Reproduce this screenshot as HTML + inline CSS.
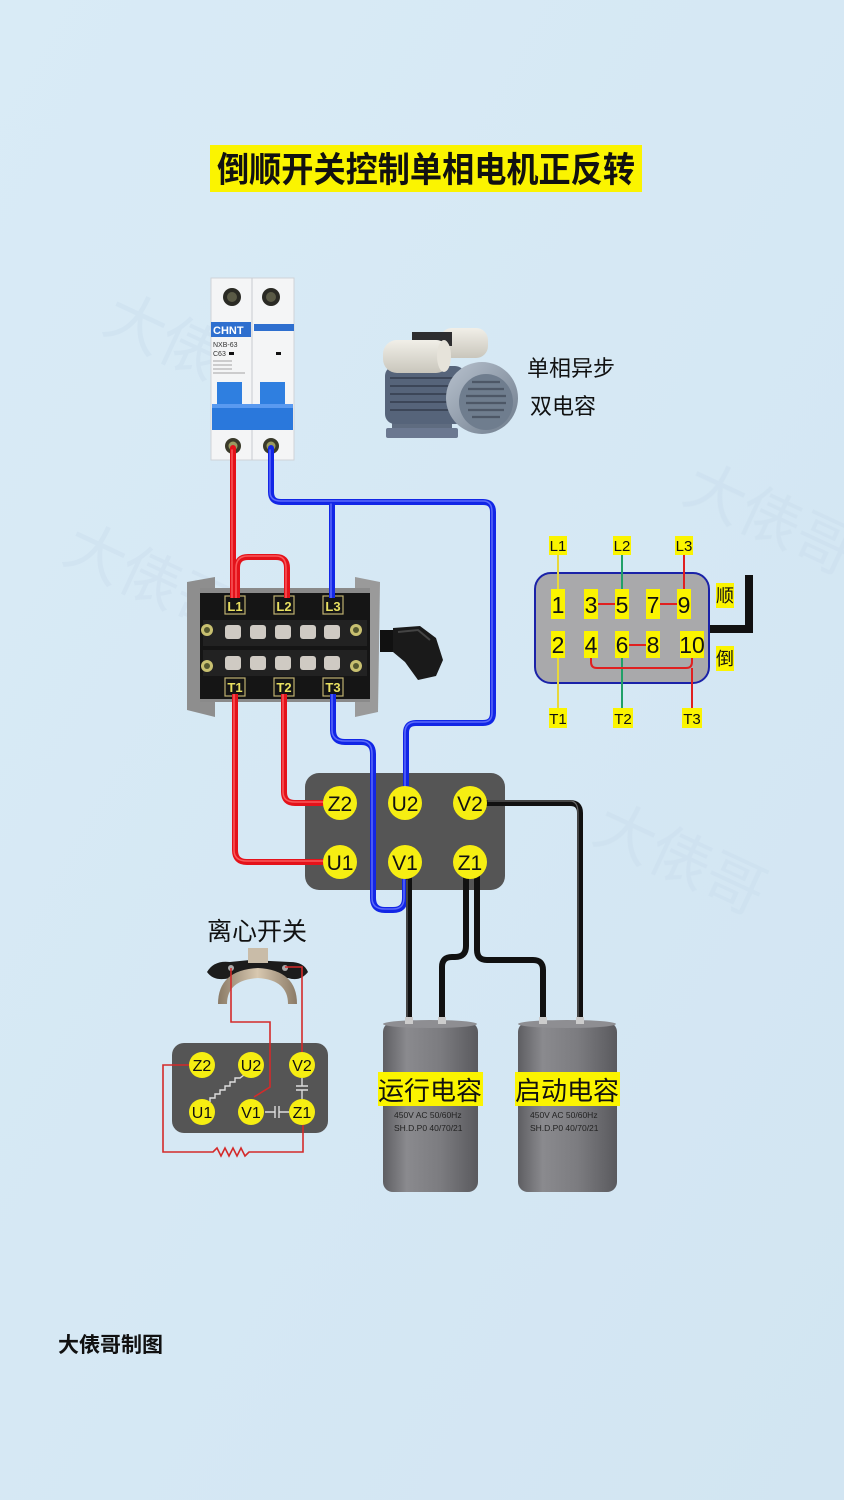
<!DOCTYPE html>
<html><head><meta charset="utf-8"><style>
html,body{margin:0;padding:0;background:#d6e8f4;}
svg{display:block;}
.cjk{font-family:"Liberation Sans","Noto Sans CJK SC",sans-serif;}
.lat{font-family:"Liberation Sans",sans-serif;}
</style></head><body>
<svg width="844" height="1500" viewBox="0 0 844 1500" xmlns="http://www.w3.org/2000/svg">
<defs>
<linearGradient id="bg" x1="0" y1="0" x2="1" y2="1">
<stop offset="0" stop-color="#d9ebf6"/><stop offset="1" stop-color="#d2e5f2"/>
</linearGradient>
<linearGradient id="cap" x1="0" y1="0" x2="1" y2="0">
<stop offset="0" stop-color="#5e5e62"/><stop offset="0.25" stop-color="#8a8a8e"/><stop offset="0.6" stop-color="#7c7c80"/><stop offset="1" stop-color="#5a5a5e"/>
</linearGradient>
<linearGradient id="fan" x1="0" y1="0" x2="1" y2="1">
<stop offset="0" stop-color="#b8c2ce"/><stop offset="1" stop-color="#6f7c8c"/>
</linearGradient>
<linearGradient id="cream" x1="0" y1="0" x2="0" y2="1">
<stop offset="0" stop-color="#f1efe8"/><stop offset="1" stop-color="#c9c6bc"/>
</linearGradient>
<linearGradient id="gold" x1="0" y1="0" x2="1" y2="0">
<stop offset="0" stop-color="#8a7a66"/><stop offset="0.5" stop-color="#d8c8b0"/><stop offset="1" stop-color="#8a7a66"/>
</linearGradient>
</defs>
<rect width="844" height="1500" fill="url(#bg)"/>

<!-- faint watermarks -->
<g class="cjk" fill="#c6dbea" font-size="60" opacity="0.35">
<text x="100" y="330" transform="rotate(25 100 330)">大俵哥</text>
<text x="60" y="560" transform="rotate(25 60 560)">大俵哥</text>
<text x="590" y="840" transform="rotate(25 590 840)">大俵哥</text>
<text x="680" y="500" transform="rotate(25 680 500)">大俵哥</text>
</g>

<!-- Title -->
<rect x="210" y="145" width="432" height="47" fill="#fbf400"/>
<text x="426" y="182" class="cjk" font-size="35" font-weight="bold" text-anchor="middle" fill="#111" textLength="418" lengthAdjust="spacingAndGlyphs">倒顺开关控制单相电机正反转</text>

<!-- Breaker -->
<g>
<rect x="211" y="278" width="83" height="182" fill="#f4f5f6" stroke="#cfd3d8"/>
<line x1="252" y1="278" x2="252" y2="460" stroke="#c8ccd0"/>
<circle cx="232" cy="297" r="9" fill="#2a2a24"/><circle cx="232" cy="297" r="5" fill="#5a5a46"/>
<circle cx="271" cy="297" r="9" fill="#2a2a24"/><circle cx="271" cy="297" r="5" fill="#5a5a46"/>
<rect x="211" y="322" width="40" height="15" fill="#2e6fcf"/>
<rect x="254" y="324" width="40" height="7" fill="#2e6fcf"/>
<text x="213" y="334" class="lat" font-size="11" font-weight="bold" fill="#fff">CHNT</text>
<text x="213" y="347" class="lat" font-size="7" fill="#333">NXB-63</text>
<text x="213" y="356" class="lat" font-size="7" fill="#333">C63</text>
<rect x="229" y="352" width="5" height="3" fill="#111"/>
<rect x="276" y="352" width="5" height="3" fill="#111"/>
<g stroke="#888" stroke-width="0.8"><line x1="213" y1="361" x2="232" y2="361"/><line x1="213" y1="365" x2="232" y2="365"/><line x1="213" y1="369" x2="232" y2="369"/><line x1="213" y1="373" x2="245" y2="373"/></g>
<rect x="217" y="382" width="25" height="26" fill="#2f7fe0"/>
<rect x="260" y="382" width="25" height="26" fill="#2f7fe0"/>
<rect x="212" y="406" width="81" height="24" fill="#2a78dc"/>
<rect x="212" y="404" width="81" height="4" fill="#5a9af0"/>
<circle cx="233" cy="446" r="8" fill="#3a3a2a"/><circle cx="233" cy="446" r="4.5" fill="#9a9a60"/>
<circle cx="271" cy="446" r="8" fill="#3a3a2a"/><circle cx="271" cy="446" r="4.5" fill="#9a9a60"/>
</g>

<!-- Motor picture -->
<g>
<rect x="392" y="415" width="60" height="22" fill="#5f6c80"/>
<rect x="386" y="428" width="72" height="10" rx="2" fill="#6b7890"/>
<rect x="385" y="366" width="80" height="58" rx="10" fill="#56647a"/>
<g stroke="#3c4658" stroke-width="2"><line x1="390" y1="378" x2="460" y2="378"/><line x1="390" y1="386" x2="460" y2="386"/><line x1="390" y1="394" x2="460" y2="394"/><line x1="390" y1="402" x2="460" y2="402"/><line x1="390" y1="410" x2="460" y2="410"/></g>
<rect x="440" y="328" width="48" height="30" rx="12" fill="url(#cream)"/>
<rect x="412" y="332" width="40" height="14" fill="#2e2e30"/>
<rect x="383" y="340" width="67" height="33" rx="14" fill="url(#cream)"/>
<ellipse cx="444" cy="356" rx="7" ry="16" fill="#e6e3da"/>
<ellipse cx="482" cy="398" rx="36" ry="36" fill="url(#fan)"/>
<ellipse cx="486" cy="402" rx="27" ry="28" fill="#6f7d8e"/>
<g stroke="#4d5766" stroke-width="2.2"><line x1="472" y1="382" x2="500" y2="382"/><line x1="468" y1="389" x2="504" y2="389"/><line x1="466" y1="396" x2="506" y2="396"/><line x1="466" y1="403" x2="506" y2="403"/><line x1="468" y1="410" x2="504" y2="410"/><line x1="472" y1="417" x2="500" y2="417"/></g>
</g>
<text x="527" y="376" class="cjk" font-size="22" fill="#111">单相异步</text>
<text x="530" y="414" class="cjk" font-size="22" fill="#111">双电容</text>

<!-- Switch housing -->
<g>
<polygon points="187,582 215,577 215,717 187,710" fill="#8e8e8e"/>
<polygon points="355,577 380,582 378,712 355,717" fill="#9a9a9a"/>
<rect x="200" y="588" width="170" height="114" fill="#8a8a8a"/>
<rect x="200" y="593" width="170" height="106" fill="#151515"/>
<rect x="203" y="620" width="164" height="26" fill="#222"/>
<rect x="203" y="650" width="164" height="26" fill="#222"/>
<g fill="#cfcac3">
<rect x="225" y="625" width="16" height="14" rx="3"/><rect x="250" y="625" width="16" height="14" rx="3"/><rect x="275" y="625" width="16" height="14" rx="3"/><rect x="300" y="625" width="16" height="14" rx="3"/><rect x="324" y="625" width="16" height="14" rx="3"/>
<rect x="225" y="656" width="16" height="14" rx="3"/><rect x="250" y="656" width="16" height="14" rx="3"/><rect x="275" y="656" width="16" height="14" rx="3"/><rect x="300" y="656" width="16" height="14" rx="3"/><rect x="324" y="656" width="16" height="14" rx="3"/>
</g>
<g fill="#c8c070"><circle cx="207" cy="630" r="6"/><circle cx="207" cy="666" r="6"/><circle cx="356" cy="630" r="6"/><circle cx="356" cy="666" r="6"/></g>
<g fill="#555830"><circle cx="207" cy="630" r="3"/><circle cx="207" cy="666" r="3"/><circle cx="356" cy="630" r="3"/><circle cx="356" cy="666" r="3"/></g>
<g fill="none" stroke="#bfb070" stroke-width="1.2">
<rect x="225" y="596" width="20" height="18"/><rect x="274" y="596" width="20" height="18"/><rect x="323" y="596" width="20" height="18"/>
<rect x="225" y="678" width="20" height="18"/><rect x="274" y="678" width="20" height="18"/><rect x="323" y="678" width="20" height="18"/>
</g>
<!-- handle -->
<rect x="380" y="630" width="14" height="22" fill="#111"/>
<path d="M393,628 L420,626 L436,638 L443,660 L436,676 L418,680 L405,662 L393,652 Z" fill="#1a1a1a"/>
<path d="M398,632 L418,630 L430,640" stroke="#444" stroke-width="2" fill="none"/>
</g>

<!-- Motor terminal box (under wires) -->
<rect x="305" y="773" width="200" height="117" rx="14" fill="#555555"/>

<!-- Wires -->
<g fill="none" stroke-linecap="round" stroke-linejoin="round">
<g stroke="#e4121a" stroke-width="6">
<path d="M233,448 V603"/>
<path d="M237,603 V568 Q237,557 248,557 H276 Q287,557 287,568 V603"/>
<path d="M235,690 V850 Q235,862 247,862 H328"/>
<path d="M284,690 V792 Q284,803 295,803 H328"/>
</g>
<g stroke="#ff6a6a" stroke-width="1.5" opacity="0.8">
<path d="M232,450 V600"/>
<path d="M236,600 V568 Q236,556 248,556 H276 Q286,556 286,568 V600"/>
<path d="M234,692 V850 Q234,861 247,861 H326"/>
<path d="M283,692 V792 Q283,802 295,802 H326"/>
</g>
<g stroke="#1226e6" stroke-width="6">
<path d="M271,448 V492 Q271,502 281,502 H483 Q493,502 493,512 V713 Q493,723 483,723 H416 Q406,723 406,733 V795"/>
<path d="M332,502 V603"/>
<path d="M333,690 V730 Q333,742 345,742 H361 Q373,742 373,754 V898 Q373,910 385,910 H393 Q405,910 405,898 V876"/>
</g>
<g stroke="#6f7cff" stroke-width="1.5" opacity="0.8">
<path d="M270,450 V492 Q270,501 281,501 H483 Q492,501 492,512 V713 Q492,722 483,722 H416 Q405,722 405,733 V788"/>
<path d="M331,504 V600"/>
<path d="M332,692 V730 Q332,741 345,741 H361 Q372,741 372,754 V898 Q372,909 385,909 H393 Q404,909 404,898 V878"/>
</g>
<g stroke="#111" stroke-width="6">
<path d="M470,803 H570 Q580,803 580,813 V1025"/>
<path d="M409,870 V1025"/>
<path d="M466,875 V946 Q466,957 455,957 H452 Q442,957 442,967 V1025"/>
<path d="M477,875 V950 Q477,960 487,960 H533 Q543,960 543,970 V1025"/>
</g>
<g stroke="#666" stroke-width="1.2">
<path d="M488,801 H570 Q578,801 578,813 V1022"/>
<path d="M407,880 V1022"/>
</g>
</g>

<!-- switch labels on top of wires -->
<g class="lat" font-size="13" fill="#e8e060" text-anchor="middle" font-weight="bold">
<rect x="226" y="598" width="18" height="15" fill="#151515"/><text x="235" y="611">L1</text>
<rect x="275" y="598" width="18" height="15" fill="#151515"/><text x="284" y="611">L2</text>
<rect x="324" y="598" width="18" height="15" fill="#151515"/><text x="333" y="611">L3</text>
<rect x="226" y="679" width="18" height="15" fill="#151515"/><text x="235" y="692">T1</text>
<rect x="275" y="679" width="18" height="15" fill="#151515"/><text x="284" y="692">T2</text>
<rect x="324" y="679" width="18" height="15" fill="#151515"/><text x="333" y="692">T3</text>
</g>

<!-- terminal circles -->
<g class="lat" font-size="21" text-anchor="middle" fill="#111">
<circle cx="340" cy="803" r="17" fill="#f6ee12"/><text x="340" y="811">Z2</text>
<circle cx="405" cy="803" r="17" fill="#f6ee12"/><text x="405" y="811">U2</text>
<circle cx="470" cy="803" r="17" fill="#f6ee12"/><text x="470" y="811">V2</text>
<circle cx="340" cy="862" r="17" fill="#f6ee12"/><text x="340" y="870">U1</text>
<circle cx="405" cy="862" r="17" fill="#f6ee12"/><text x="405" y="870">V1</text>
<circle cx="470" cy="862" r="17" fill="#f6ee12"/><text x="470" y="870">Z1</text>
</g>

<!-- Capacitors -->
<g>
<rect x="383" y="1022" width="95" height="170" rx="10" fill="url(#cap)"/>
<ellipse cx="430" cy="1024" rx="47" ry="4" fill="#8e8e92"/>
<rect x="518" y="1022" width="99" height="170" rx="10" fill="url(#cap)"/>
<ellipse cx="567" cy="1024" rx="49" ry="4" fill="#8e8e92"/>
<rect x="405" y="1017" width="8" height="7" fill="#ccc"/><rect x="438" y="1017" width="8" height="7" fill="#ccc"/>
<rect x="539" y="1017" width="8" height="7" fill="#ccc"/><rect x="576" y="1017" width="8" height="7" fill="#ccc"/>
</g>
<rect x="378" y="1072" width="105" height="34" fill="#fbf400"/>
<text x="430" y="1100" class="cjk" font-size="26" text-anchor="middle" fill="#111">运行电容</text>
<rect x="515" y="1072" width="105" height="34" fill="#fbf400"/>
<text x="567" y="1100" class="cjk" font-size="26" text-anchor="middle" fill="#111">启动电容</text>
<g class="lat" font-size="8.5" fill="#222">
<text x="394" y="1118">450V AC  50/60Hz</text>
<text x="394" y="1131">SH.D.P0  40/70/21</text>
<text x="530" y="1118">450V AC  50/60Hz</text>
<text x="530" y="1131">SH.D.P0  40/70/21</text>
</g>

<!-- Centrifugal switch -->
<text x="207" y="940" class="cjk" font-size="25" fill="#111">离心开关</text>
<g>
<path d="M207,972 Q214,960 230,962 L250,960 L290,962 Q304,962 308,972 Q300,982 288,978 L230,978 Q214,982 207,972 Z" fill="#1c1c1c"/>
<rect x="248" y="948" width="20" height="15" fill="#c9bca8"/>
<path d="M218,1004 Q218,970 258,968 Q297,970 297,1004 L288,1004 Q288,980 258,978 Q227,980 227,1004 Z" fill="url(#gold)"/>
<circle cx="231" cy="968" r="3" fill="#aaa"/><circle cx="285" cy="968" r="3" fill="#aaa"/>
</g>
<rect x="172" y="1043" width="156" height="90" rx="12" fill="#555555"/>
<g fill="none" stroke="#d42a2a" stroke-width="1.6">
<path d="M231,968 V1022 H270 V1087 L254,1097"/>
<path d="M285,967 H302 V1052"/>
<path d="M190,1065 H163 V1152 H213 l4,-4 l4,8 l4,-8 l4,8 l4,-8 l4,8 l4,-8 l4,8 l4,-4 H303 V1125"/>
</g>
<g fill="none" stroke="#ddd" stroke-width="1.4">
<path d="M210,1102 V1098 H215 V1094 H220 V1090 H225 V1086 H230 V1082 H235 V1078 H240 L244,1075"/>
<path d="M265,1112 H275 M279,1112 H289"/>
<path d="M275,1106 V1118 M279,1106 V1118"/>
<path d="M302,1078 V1086 M302,1090 V1099"/>
<path d="M296,1086 H308 M296,1090 H308"/>
</g>
<g class="lat" font-size="16" text-anchor="middle" fill="#111">
<circle cx="202" cy="1065" r="13" fill="#f6ee12"/><text x="202" y="1071">Z2</text>
<circle cx="251" cy="1065" r="13" fill="#f6ee12"/><text x="251" y="1071">U2</text>
<circle cx="302" cy="1065" r="13" fill="#f6ee12"/><text x="302" y="1071">V2</text>
<circle cx="202" cy="1112" r="13" fill="#f6ee12"/><text x="202" y="1118">U1</text>
<circle cx="251" cy="1112" r="13" fill="#f6ee12"/><text x="251" y="1118">V1</text>
<circle cx="302" cy="1112" r="13" fill="#f6ee12"/><text x="302" y="1118">Z1</text>
</g>

<!-- Right schematic -->
<g>
<rect x="745" y="575" width="8" height="58" fill="#111"/>
<rect x="708" y="625" width="45" height="8" fill="#111"/>
<rect x="535" y="573" width="174" height="110" rx="16" fill="#a9a9ab" stroke="#1a22a8" stroke-width="2"/>
<g fill="none" stroke-width="2">
<path d="M558,555 V590 M558,657 V708" stroke="#e8d83a"/>
<path d="M622,555 V590 M622,657 V708" stroke="#20a068"/>
<path d="M684,555 V590" stroke="#e02020"/>
<path d="M598,604 H615 M660,604 H677 M629,645 H646" stroke="#e02020"/>
<path d="M591,657 V662 Q591,668 597,668 H686 Q692,668 692,662 V657 M692,668 V708" stroke="#e02020"/>
</g>
<g fill="#fbf400">
<rect x="549" y="536" width="18" height="19"/><rect x="613" y="536" width="18" height="19"/><rect x="675" y="536" width="18" height="19"/>
<rect x="551" y="589" width="14" height="30"/><rect x="584" y="589" width="14" height="30"/><rect x="615" y="589" width="14" height="30"/><rect x="646" y="589" width="14" height="30"/><rect x="677" y="589" width="14" height="30"/>
<rect x="551" y="631" width="14" height="27"/><rect x="584" y="631" width="14" height="27"/><rect x="615" y="631" width="14" height="27"/><rect x="646" y="631" width="14" height="27"/><rect x="680" y="631" width="24" height="27"/>
<rect x="549" y="708" width="18" height="20"/><rect x="613" y="708" width="20" height="20"/><rect x="682" y="708" width="20" height="20"/>
<rect x="716" y="583" width="18" height="25"/><rect x="716" y="646" width="18" height="25"/>
</g>
<g class="lat" text-anchor="middle" fill="#111">
<g font-size="15"><text x="558" y="551">L1</text><text x="622" y="551">L2</text><text x="684" y="551">L3</text>
<text x="558" y="724">T1</text><text x="623" y="724">T2</text><text x="692" y="724">T3</text></g>
<g font-size="23"><text x="558" y="613">1</text><text x="591" y="613">3</text><text x="622" y="613">5</text><text x="653" y="613">7</text><text x="684" y="613">9</text>
<text x="558" y="653">2</text><text x="591" y="653">4</text><text x="622" y="653">6</text><text x="653" y="653">8</text><text x="692" y="653">10</text></g>
</g>
<text x="725" y="602" class="cjk" font-size="18" text-anchor="middle" fill="#111">顺</text>
<text x="725" y="665" class="cjk" font-size="18" text-anchor="middle" fill="#111">倒</text>
</g>

<text x="58" y="1352" class="cjk" font-size="21" font-weight="bold" fill="#111">大俵哥制图</text>
</svg>
</body></html>
